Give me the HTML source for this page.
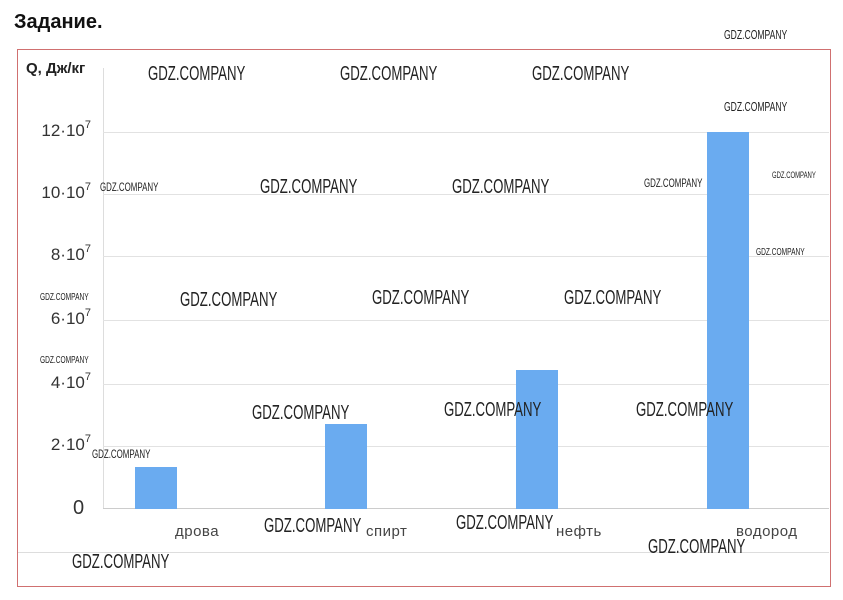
<!DOCTYPE html>
<html><head><meta charset="utf-8"><style>
body{margin:0;width:843px;height:600px;background:#fff;position:relative;overflow:hidden;font-family:"Liberation Sans",Arial,sans-serif}
.a{position:absolute;white-space:nowrap}
.w{position:absolute;white-space:nowrap;font-family:"Liberation Sans Narrow","Liberation Sans",sans-serif;color:#222;transform-origin:0 0;transform:scaleX(0.66)}
.g{position:absolute;left:103px;width:726px;height:1px;background:#e2e2e2}
.t{position:absolute;right:752px;font-size:17px;color:#333;text-align:right}
.t sup{font-size:11px;vertical-align:8px}
.bar{position:absolute;background:#6aabf0;width:42px}
.c{position:absolute;font-size:15px;color:#444;letter-spacing:0.5px}
</style></head><body>
<div class="a" style="left:14px;top:11px;font-size:20px;font-weight:bold;color:#111">Задание.</div>
<div class="a" style="left:17px;top:49px;width:812px;height:536px;border:1px solid #d07070"></div>
<div class="a" style="left:26px;top:60px;font-size:15px;font-weight:bold;color:#222">Q, Дж/кг</div>
<div class="a" style="left:103px;top:68px;width:1px;height:441px;background:#ddd"></div>
<div class="g" style="top:132px"></div><div class="g" style="top:194px"></div><div class="g" style="top:256px"></div>
<div class="g" style="top:320px"></div><div class="g" style="top:384px"></div><div class="g" style="top:446px"></div>
<div class="g" style="top:508px;background:#ccc"></div>
<div class="a" style="left:18px;top:552px;width:811px;height:1px;background:#ddd"></div>
<div class="t" style="top:119px">12·10<sup>7</sup></div>
<div class="t" style="top:181px">10·10<sup>7</sup></div>
<div class="t" style="top:243px">8·10<sup>7</sup></div>
<div class="t" style="top:307px">6·10<sup>7</sup></div>
<div class="t" style="top:371px">4·10<sup>7</sup></div>
<div class="t" style="top:433px">2·10<sup>7</sup></div>
<div class="a" style="left:73px;top:497px;font-size:20px;color:#333">0</div>
<div class="bar" style="left:135px;top:467px;height:42px"></div>
<div class="bar" style="left:325px;top:424px;height:85px"></div>
<div class="bar" style="left:516px;top:370px;height:139px"></div>
<div class="bar" style="left:707px;top:132px;height:377px"></div>
<div class="c" style="left:175px;top:523px">дрова</div>
<div class="c" style="left:366px;top:523px">спирт</div>
<div class="c" style="left:556px;top:523px">нефть</div>
<div class="c" style="left:736px;top:523px">водород</div>
<div class="w" style="left:148px;top:63px;font-size:20px">GDZ.COMPANY</div>
<div class="w" style="left:340px;top:63px;font-size:20px">GDZ.COMPANY</div>
<div class="w" style="left:532px;top:63px;font-size:20px">GDZ.COMPANY</div>
<div class="w" style="left:724px;top:27px;font-size:13px">GDZ.COMPANY</div>
<div class="w" style="left:724px;top:99px;font-size:13px">GDZ.COMPANY</div>
<div class="w" style="left:100px;top:180px;font-size:12px">GDZ.COMPANY</div>
<div class="w" style="left:260px;top:176px;font-size:20px">GDZ.COMPANY</div>
<div class="w" style="left:452px;top:176px;font-size:20px">GDZ.COMPANY</div>
<div class="w" style="left:644px;top:176px;font-size:12px">GDZ.COMPANY</div>
<div class="w" style="left:772px;top:170px;font-size:9px">GDZ.COMPANY</div>
<div class="w" style="left:756px;top:247px;font-size:10px">GDZ.COMPANY</div>
<div class="w" style="left:40px;top:292px;font-size:10px">GDZ.COMPANY</div>
<div class="w" style="left:40px;top:355px;font-size:10px">GDZ.COMPANY</div>
<div class="w" style="left:180px;top:289px;font-size:20px">GDZ.COMPANY</div>
<div class="w" style="left:372px;top:287px;font-size:20px">GDZ.COMPANY</div>
<div class="w" style="left:564px;top:287px;font-size:20px">GDZ.COMPANY</div>
<div class="w" style="left:252px;top:402px;font-size:20px">GDZ.COMPANY</div>
<div class="w" style="left:444px;top:399px;font-size:20px">GDZ.COMPANY</div>
<div class="w" style="left:636px;top:399px;font-size:20px">GDZ.COMPANY</div>
<div class="w" style="left:92px;top:447px;font-size:12px">GDZ.COMPANY</div>
<div class="w" style="left:264px;top:515px;font-size:20px">GDZ.COMPANY</div>
<div class="w" style="left:456px;top:512px;font-size:20px">GDZ.COMPANY</div>
<div class="w" style="left:648px;top:536px;font-size:20px">GDZ.COMPANY</div>
<div class="w" style="left:72px;top:551px;font-size:20px">GDZ.COMPANY</div>
</body></html>
